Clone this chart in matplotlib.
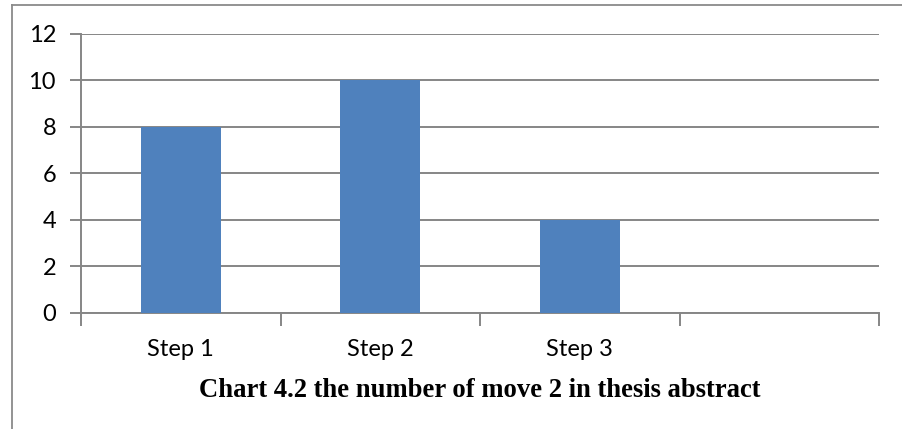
import numpy as np
import matplotlib.pyplot as plt
from matplotlib.lines import Line2D

categories = ["Step 1", "Step 2", "Step 3", ""]
values = [8, 10, 4, np.nan]
yticks = [0, 2, 4, 6, 8, 10, 12]

W, H = 903, 429
fig = plt.figure(figsize=(W / 100, H / 100), dpi=100)

# axes box in pixels: x 81..879, y 33.5..312.7
left, right, top, bottom = 81, 879, 33.5, 312.7
ax = fig.add_axes([left / W, 1 - bottom / H, (right - left) / W, (bottom - top) / H])

grid_col = "#868686"
x = np.arange(len(categories))
ax.bar(x, values, width=0.4, color="#4F81BD", zorder=3)

ax.set_xlim(-0.5, len(categories) - 0.5)
ax.set_ylim(0, 12)
ax.set_yticks(yticks)
ax.set_yticklabels([str(v) for v in yticks], fontfamily="Lato", fontsize=17)
ax.yaxis.grid(True, color=grid_col, linewidth=1.4, zorder=0)

ax.set_xticks(x)
ax.set_xticklabels(categories, fontfamily="Lato", fontsize=17)
ax.tick_params(axis="x", length=0, pad=19)
ax.set_xticks(np.arange(len(categories) + 1) - 0.5, minor=True)
ax.tick_params(axis="x", which="minor", length=9, color=grid_col, width=1.4)
ax.tick_params(axis="y", length=8, color=grid_col, width=1.4, pad=10)

for s in ["top", "right"]:
    ax.spines[s].set_visible(False)
for s in ["left", "bottom"]:
    ax.spines[s].set_color(grid_col)
    ax.spines[s].set_linewidth(1.4)

# outer chart frame (top and left edges visible)
fig.add_artist(Line2D([12 / W, 1], [1 - 5 / H, 1 - 5 / H], color="#8a8a8a", lw=1.3))
fig.add_artist(Line2D([12 / W, 12 / W], [0, 1 - 5 / H], color="#8a8a8a", lw=1.3))

fig.text(480 / W, 1 - 397 / H, "Chart 4.2 the number of move 2 in thesis abstract",
         ha="center", va="baseline", fontfamily="Liberation Serif", fontweight="bold",
         fontsize=19.2)

fig.savefig("out.png", dpi=100)
